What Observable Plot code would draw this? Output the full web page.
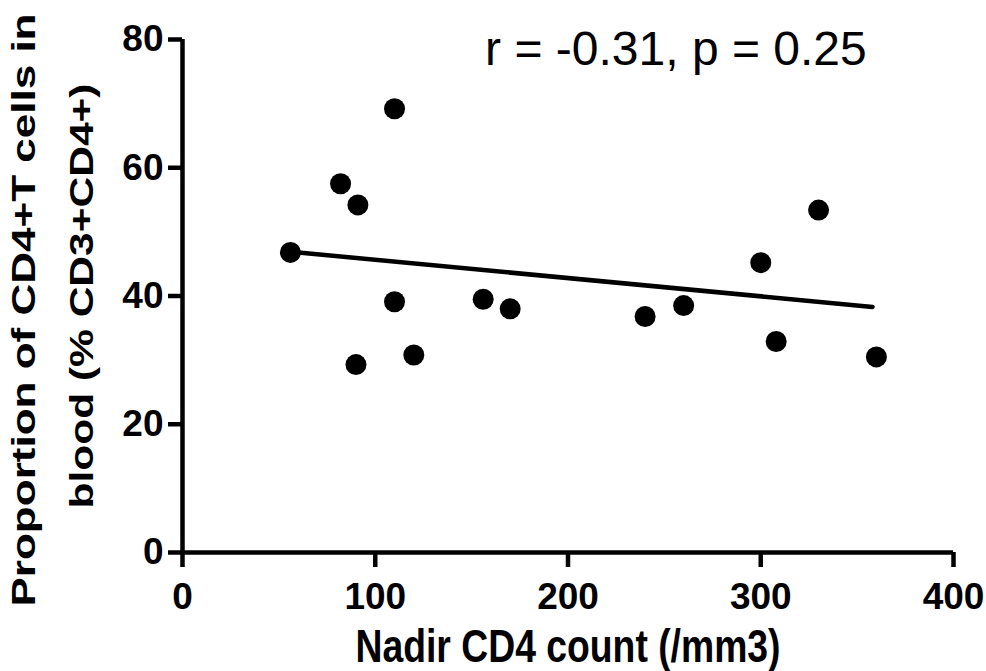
<!DOCTYPE html>
<html>
<head>
<meta charset="utf-8">
<script src="https://cdn.jsdelivr.net/npm/d3@7"></script>
<script src="https://cdn.jsdelivr.net/npm/@observablehq/plot@0.6"></script>
<style>
  html, body { margin: 0; padding: 0; background: #fff; }
</style>
</head>
<body>
<div id="chart"></div>
<script>
// Data
const nadirCD4 = [56, 82, 91, 110, 110, 90, 120, 156, 170, 240, 260, 300, 308, 330, 360];
const cd4Percent = [46.8, 57.5, 54.2, 69.2, 39.1, 29.3, 30.8, 39.5, 38.0, 36.8, 38.5, 45.2, 32.9, 53.4, 30.5];
const fitX = [56, 358];
const fitY = [46.9, 38.3];
const xTicks = [0, 100, 200, 300, 400];
const yTicks = [0, 20, 40, 60, 80];
const annotation = "r = -0.31, p = 0.25";
const annotationPos = {x: 157, y: 78.4};
const xTitle = "Nadir CD4 count (/mm3)";
const yTitle1 = "Proportion of CD4+T cells in";
const yTitle2 = "blood (% CD3+CD4+)";

const points = nadirCD4.map((x, i) => ({x, y: cd4Percent[i]}));
const fit = fitX.map((x, i) => ({x, y: fitY[i]}));

const font = "'Liberation Sans', Arial, Helvetica, sans-serif";

const svg = Plot.plot({
  width: 986,
  height: 671,
  marginLeft: 182,
  marginRight: 33,
  marginTop: 39,
  marginBottom: 119,
  style: {fontFamily: font, background: "#fff", color: "#000", overflow: "visible"},
  x: {domain: [0, 400]},
  y: {domain: [0, 80]},
  marks: [
    Plot.ruleX([0], {y1: 0, y2: 80, stroke: "#000", strokeWidth: 4.5}),
    Plot.ruleY([0], {x1: 0, x2: 400, stroke: "#000", strokeWidth: 4.5}),
    Plot.axisX({ticks: xTicks, tickSize: 15, tickPadding: 15, strokeWidth: 4.5, fontSize: 37, fontWeight: "bold", label: null}),
    Plot.axisY({ticks: yTicks, tickSize: 14, tickPadding: 5, strokeWidth: 4.5, fontSize: 37, fontWeight: "bold", label: null}),
    Plot.line(fit, {x: "x", y: "y", stroke: "#000", strokeWidth: 4.5, strokeLinecap: "round"}),
    Plot.dot(points, {x: "x", y: "y", r: 10.5, fill: "#000", stroke: "none"}),
    Plot.text([annotation], {x: annotationPos.x, y: annotationPos.y, text: d => d, textAnchor: "start", lineAnchor: "middle", fontSize: 48, fontWeight: "normal", fill: "#000"}),
    Plot.text([xTitle], {frameAnchor: "bottom", dy: 94, text: d => d, textAnchor: "middle", lineAnchor: "middle", fontSize: 47, fontWeight: "bold", fill: "#000"}),
    Plot.text([yTitle1], {frameAnchor: "left", rotate: -90, dx: -158, dy: 14, text: d => d, textAnchor: "middle", lineAnchor: "middle", fontSize: 34, fontWeight: "bold", fill: "#000"}),
    Plot.text([yTitle2], {frameAnchor: "left", rotate: -90, dx: -100, dy: 0, text: d => d, textAnchor: "middle", lineAnchor: "middle", fontSize: 34, fontWeight: "bold", fill: "#000"})
  ]
});

// Condensed/stretched titles as in the reference
const lengths = new Map([[xTitle, 425], [yTitle1, 593], [yTitle2, 425]]);
d3.select(svg).selectAll("text").each(function() {
  const t = this.textContent;
  if (lengths.has(t)) {
    d3.select(this).attr("textLength", lengths.get(t)).attr("lengthAdjust", "spacingAndGlyphs");
  }
});

document.getElementById("chart").appendChild(svg);
</script>
</body>
</html>
